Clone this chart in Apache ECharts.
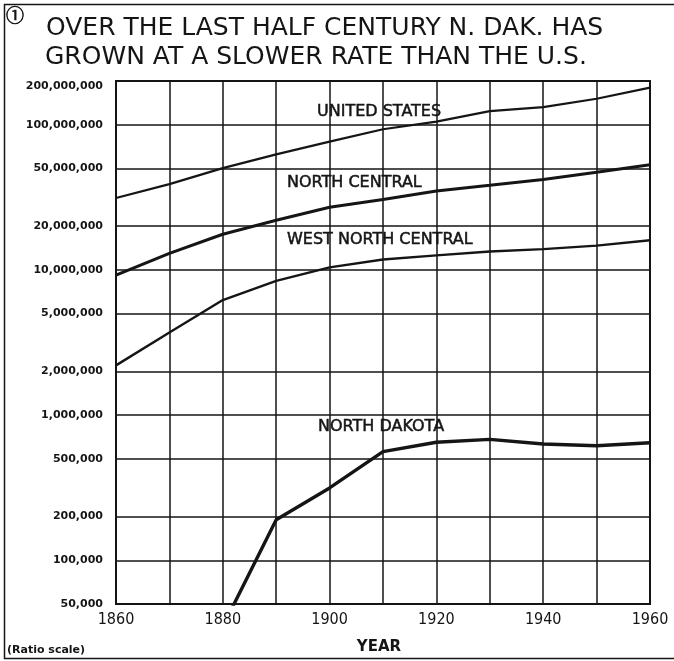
<!DOCTYPE html>
<html>
<head>
    <meta charset="utf-8">
    <title>North Dakota population</title>
    <script src="https://cdn.jsdelivr.net/npm/echarts@6/dist/echarts.min.js"></script>
    <style>
        html, body { margin: 0; padding: 0; background: #fff; }
        #chart1 { width: 674px; height: 661px; }
    </style>
</head>
<body>
<div id="chart1"></div>
<script type="text/javascript">
    // census years and population
    var years = [1860, 1870, 1880, 1890, 1900, 1910, 1920, 1930, 1940, 1950, 1960];
    var unitedStates = [31300000, 39000000, 50200000, 62500000, 76500000, 93000000, 105000000, 124000000, 132000000, 151000000, 180000000];
    var northCentral = [9200000, 13000000, 17600000, 22000000, 27000000, 30500000, 35000000, 38300000, 42000000, 47000000, 53000000];
    var westNorthCentral = [2200000, 3700000, 6200000, 8400000, 10400000, 11800000, 12600000, 13400000, 13900000, 14700000, 16000000];
    var northDakota = [null, null, 35000, 190000, 315000, 560000, 650000, 680000, 632000, 615000, 645000];

    var yTicks = [50000, 100000, 200000, 500000, 1000000, 2000000, 5000000, 10000000, 20000000, 50000000, 100000000, 200000000];
    var xLabelYears = [1860, 1880, 1900, 1920, 1940, 1960];
    var seriesNames = ['UNITED STATES', 'NORTH CENTRAL', 'WEST NORTH CENTRAL', 'NORTH DAKOTA'];

    function pairs(values) {
        return years.map(function (y, i) { return [y, values[i]]; });
    }

    var ink = '#151515';
    var labelFont = 'normal 16px "DejaVu Sans"';

    function txt(str, x, y, font, align, stroke) {
        return {
            type: 'text', x: x, y: y, silent: true,
            style: {
                text: str, font: font, fill: ink,
                stroke: stroke ? ink : null, lineWidth: stroke || 0,
                textAlign: align || 'left', textVerticalAlign: 'middle',
                align: align || 'left', verticalAlign: 'middle'
            }
        };
    }

    var myChart = echarts.init(document.getElementById('chart1'));
    myChart.setOption({
        backgroundColor: '#fff',
        animation: false,
        grid: {
            left: 116, top: 81, width: 534, height: 523,
            show: true, borderColor: ink, borderWidth: 2, backgroundColor: 'transparent'
        },
        xAxis: {
            type: 'value', min: 1860, max: 1960, interval: 10,
            axisLine: { show: false },
            axisTick: { show: false },
            splitLine: { show: true, lineStyle: { color: ink, width: 1.5 } },
            axisLabel: {
                customValues: xLabelYears,
                margin: 8,
                color: ink,
                fontSize: 16,
                fontFamily: '"Liberation Sans Narrow", "DejaVu Sans Condensed", sans-serif',
                formatter: function (v) { return String(v); }
            }
        },
        yAxis: {
            type: 'log', logBase: 10, min: 50000, max: 200000000,
            axisLine: { show: false },
            axisTick: { show: false, customValues: yTicks },
            splitLine: { show: true, lineStyle: { color: ink, width: 1.5 } },
            axisLabel: {
                customValues: yTicks,
                margin: 13,
                color: ink,
                fontSize: 11,
                fontWeight: 'bold',
                fontFamily: '"DejaVu Sans", sans-serif',
                verticalAlignMaxLabel: 'top',
                formatter: function (v) { return Math.round(v).toLocaleString('en-US'); }
            }
        },
        series: [
            { name: seriesNames[0], type: 'line', data: pairs(unitedStates), showSymbol: false, lineStyle: { color: ink, width: 2.2 } },
            { name: seriesNames[1], type: 'line', data: pairs(northCentral), showSymbol: false, lineStyle: { color: ink, width: 3 } },
            { name: seriesNames[2], type: 'line', data: pairs(westNorthCentral), showSymbol: false, lineStyle: { color: ink, width: 2.4 } },
            { name: seriesNames[3], type: 'line', data: pairs(northDakota), showSymbol: false, lineStyle: { color: ink, width: 3.4 } }
        ],
        graphic: [
            {
                type: 'rect', silent: true,
                shape: { x: 4.5, y: 4.5, width: 700, height: 654 },
                style: { fill: 'none', stroke: ink, lineWidth: 1.5 }
            },
            txt('\u2460', 6, 15, 'normal 18px "Noto Sans CJK SC", "DejaVu Sans"', 'left', 0.6),
            txt('OVER THE LAST HALF CENTURY N. DAK. HAS', 46, 28, 'normal 25px "DejaVu Sans"'),
            txt('GROWN AT A SLOWER RATE THAN THE U.S.', 45, 57, 'normal 25px "DejaVu Sans"'),
            txt(seriesNames[0], 317, 112, labelFont, 'left', 0.5),
            txt(seriesNames[1], 287, 183, labelFont, 'left', 0.5),
            txt(seriesNames[2], 287, 240, labelFont, 'left', 0.5),
            txt(seriesNames[3], 318, 427, labelFont, 'left', 0.5),
            txt('YEAR', 379, 647, 'bold 15px "DejaVu Sans"', 'center'),
            txt('(Ratio scale)', 7, 650, 'bold 11px "DejaVu Sans"')
        ]
    });
</script>
</body>
</html>
